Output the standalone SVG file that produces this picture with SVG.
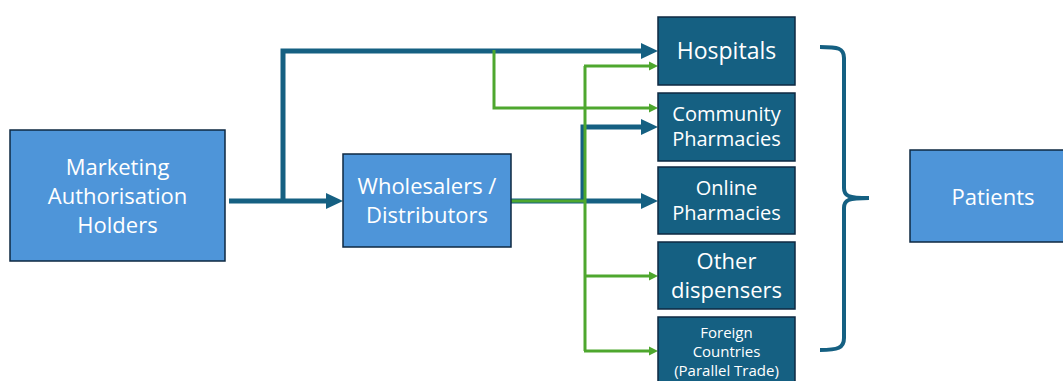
<svg xmlns="http://www.w3.org/2000/svg" width="1063" height="381" viewBox="0 0 1063 381">
<defs>
<style>
.light{fill:#4E95D9;stroke:#0E2841;stroke-width:1.5}
.dark{fill:#156082;stroke:#0E2841;stroke-width:1.5}
text{font-family:"Open Sans","Liberation Sans",sans-serif;fill:#FFFFFF;text-anchor:middle}
.blue{fill:none;stroke:#156082;stroke-width:5;stroke-linejoin:miter}
.green{fill:none;stroke:#4EA72E;stroke-width:3;stroke-linejoin:miter}
</style>
<marker id="ab" markerUnits="userSpaceOnUse" markerWidth="18" markerHeight="18" refX="0" refY="8" orient="auto" viewBox="0 0 18 16">
<path d="M0,0 L17,8 L0,16 Z" fill="#156082"/>
</marker>
<marker id="ag" markerUnits="userSpaceOnUse" markerWidth="10" markerHeight="10" refX="0" refY="4.5" orient="auto" viewBox="0 0 10 9">
<path d="M0,0 L9,4.5 L0,9 Z" fill="#4EA72E"/>
</marker>
</defs>
<g id="connectors">
<path class="blue" d="M229,201 H326" marker-end="url(#ab)"/>
<path class="blue" d="M283,203 V51 H641" marker-end="url(#ab)"/>
<path class="blue" d="M511,201 H641" marker-end="url(#ab)"/>
<path class="blue" d="M583,201 V127 H641" marker-end="url(#ab)"/>
<path class="green" d="M494,50 V108 H649" marker-end="url(#ag)"/>
<path class="green" d="M511,201 H585"/>
<path class="green" d="M585,66 V351"/>
<path class="green" d="M584,66 H649" marker-end="url(#ag)"/>
<path class="green" d="M584,276 H649" marker-end="url(#ag)"/>
<path class="green" d="M584,351 H649" marker-end="url(#ag)"/>
<path fill="none" stroke="#156082" stroke-width="4" d="M820,47 C838,47 844,48 844,58 V188 C844,196 848,198 869,198 M869,198 C848,198 844,200 844,208 V338 C844,348 838,350 820,350"/>
</g>
<g id="mah">
<rect class="light" x="10" y="130" width="215" height="131"/>
<text font-size="22"><tspan x="117.5" y="175">Marketing</tspan><tspan x="117.5" y="204">Authorisation</tspan><tspan x="117.5" y="233">Holders</tspan></text>
</g>
<g id="wholesalers">
<rect class="light" x="343" y="154" width="168" height="93"/>
<text font-size="22"><tspan x="427" y="194">Wholesalers /</tspan><tspan x="427" y="223">Distributors</tspan></text>
</g>
<g id="hospitals">
<rect class="dark" x="658" y="17" width="137" height="68"/>
<text font-size="23" x="726.5" y="59">Hospitals</text>
</g>
<g id="community">
<rect class="dark" x="658" y="93" width="137" height="68"/>
<text font-size="20"><tspan x="726.5" y="121">Community</tspan><tspan x="726.5" y="146">Pharmacies</tspan></text>
</g>
<g id="online">
<rect class="dark" x="658" y="167" width="137" height="67"/>
<text font-size="20"><tspan x="726.5" y="195">Online</tspan><tspan x="726.5" y="220">Pharmacies</tspan></text>
</g>
<g id="other">
<rect class="dark" x="658" y="242" width="137" height="67"/>
<text font-size="22"><tspan x="726.5" y="269">Other</tspan><tspan x="726.5" y="298">dispensers</tspan></text>
</g>
<g id="foreign">
<rect class="dark" x="658" y="317" width="137" height="70"/>
<text font-size="15"><tspan x="726.5" y="338">Foreign</tspan><tspan x="726.5" y="357">Countries</tspan><tspan x="726.5" y="376">(Parallel Trade)</tspan></text>
</g>
<g id="patients">
<rect class="light" x="910" y="150" width="160" height="92"/>
<text font-size="22" x="993" y="205">Patients</text>
</g>
</svg>
